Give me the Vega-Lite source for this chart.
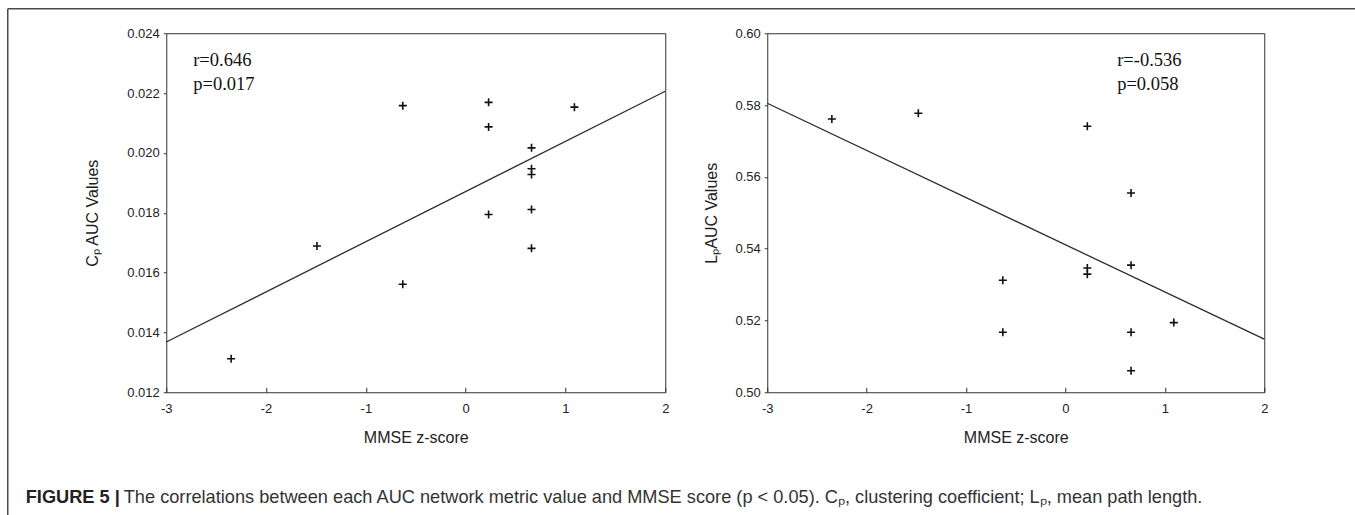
{
  "$schema": "https://vega.github.io/schema/vega-lite/v6.json",
  "background": "white",
  "padding": {"left": 6.25, "top": 7.25, "right": 0, "bottom": 0},
  "datasets": {
    "leftPts": [
      {"z": -2.35, "v": 0.01312},
      {"z": -1.49, "v": 0.01689},
      {"z": -0.63, "v": 0.02158},
      {"z": -0.63, "v": 0.01561},
      {"z": 0.23, "v": 0.02169},
      {"z": 0.23, "v": 0.02087},
      {"z": 0.23, "v": 0.01794},
      {"z": 0.66, "v": 0.02017},
      {"z": 0.66, "v": 0.01947},
      {"z": 0.66, "v": 0.01928},
      {"z": 0.66, "v": 0.01811},
      {"z": 0.66, "v": 0.01681},
      {"z": 1.09, "v": 0.02153}
    ],
    "leftFit": [
      {"z": -3, "v": 0.01368},
      {"z": 2, "v": 0.02206}
    ],
    "leftTxt": [
      {"z": -2.73, "v": 0.0231, "label": "r=0.646"},
      {"z": -2.73, "v": 0.0223, "label": "p=0.017"}
    ],
    "rightPts": [
      {"z": -2.35, "v": 0.5761},
      {"z": -1.48, "v": 0.5777},
      {"z": 0.22, "v": 0.5741},
      {"z": 0.66, "v": 0.5555},
      {"z": 0.66, "v": 0.5354},
      {"z": 0.22, "v": 0.5346},
      {"z": 0.22, "v": 0.5329},
      {"z": -0.63, "v": 0.5312},
      {"z": -0.63, "v": 0.5167},
      {"z": 0.66, "v": 0.5167},
      {"z": 1.09, "v": 0.5194},
      {"z": 0.66, "v": 0.506}
    ],
    "rightFit": [
      {"z": -3, "v": 0.5805},
      {"z": 2, "v": 0.5148}
    ],
    "rightTxt": [
      {"z": 0.52, "v": 0.5925, "label": "r=-0.536"},
      {"z": 0.52, "v": 0.5858, "label": "p=0.058"}
    ],
    "frame": [
      {"fx": 0.5, "fy": 0.5}
    ]
  },
  "config": {
    "view": {"stroke": "#333333", "strokeWidth": 1},
    "axis": {
      "grid": false,
      "domain": false,
      "labelFlush": false,
      "labelFont": "Liberation Sans",
      "labelFontSize": 13,
      "labelColor": "#222222",
      "titleFont": "Liberation Sans",
      "titleFontSize": 16,
      "titleFontWeight": "normal",
      "titleColor": "#222222",
      "tickColor": "#333333"
    },
    "axisX": {"tickSize": -5, "labelPadding": 15, "titlePadding": 14, "labelFlush": false},
    "axisY": {"tickSize": 3, "labelPadding": 4, "labelFlush": false}
  },
  "title": {
    "text": "The correlations between each AUC network metric value and MMSE score (p < 0.05). Cₚ, clustering coefficient; Lₚ, mean path length.",
    "orient": "bottom",
    "anchor": "start",
    "frame": "bounds",
    "font": "Liberation Sans",
    "fontSize": 18.2,
    "fontWeight": "normal",
    "color": "#333333",
    "offset": -52,
    "dx": 117
  },
  "vconcat": [
    {
      "title": {
        "text": "FIGURE 5 |",
        "orient": "bottom",
        "anchor": "start",
        "frame": "bounds",
        "font": "Liberation Sans",
        "fontSize": 18.2,
        "fontWeight": "bold",
        "color": "#222222",
        "offset": -52,
        "dx": 19
      },
      "bounds": "flush",
      "spacing": 102,
      "hconcat": [
        {
          "width": 499,
          "height": 359,
          "resolve": {"scale": {"x": "independent", "y": "independent"}, "axis": {"x": "independent", "y": "independent"}},
          "layer": [
            {
              "layer": [
                {
                  "data": {"name": "leftFit"},
                  "mark": {"type": "line", "color": "#2b2b2b", "strokeWidth": 1.3},
                  "encoding": {
                    "x": {"field": "z", "type": "quantitative", "scale": {"domain": [-3, 2]}, "axis": {"title": "MMSE z-score", "values": [-3, -2, -1, 0, 1, 2], "format": "d", "labelFlush": false, "labelExpr": "replace(datum.label, '−', '-')"}},
                    "y": {"field": "v", "type": "quantitative", "scale": {"domain": [0.012, 0.024], "zero": false}, "axis": {"title": "Cₚ AUC Values", "values": [0.012, 0.014, 0.016, 0.018, 0.02, 0.022, 0.024], "format": ".3f", "labelFlush": false, "titlePadding": 26}}
                  }
                },
                {
                  "data": {"name": "leftPts"},
                  "mark": {"type": "point", "shape": "M-1,0L1,0M0,-1L0,1", "size": 64, "filled": false, "stroke": "#111111", "strokeWidth": 1.6, "opacity": 1},
                  "encoding": {
                    "x": {"field": "z", "type": "quantitative"},
                    "y": {"field": "v", "type": "quantitative"}
                  }
                },
                {
                  "data": {"name": "leftTxt"},
                  "mark": {"type": "text", "font": "Liberation Serif", "fontSize": 18.5, "align": "left", "baseline": "middle", "color": "#111111"},
                  "encoding": {
                    "x": {"field": "z", "type": "quantitative"},
                    "y": {"field": "v", "type": "quantitative"},
                    "text": {"field": "label"}
                  }
                }
              ]
            },
            {
              "data": {"name": "frame"},
              "mark": {"type": "point", "opacity": 0},
              "encoding": {
                "x": {"field": "fx", "type": "quantitative", "scale": {"domain": [0, 1], "range": [-159, 1189]}, "axis": {"orient": "top", "offset": 25, "labels": false, "ticks": false, "title": null, "domain": true, "domainColor": "#4a4a4a", "domainWidth": 1.5, "grid": false}},
                "y": {"field": "fy", "type": "quantitative", "scale": {"domain": [0, 1], "range": [482, -25]}, "axis": {"orient": "left", "offset": 159, "labels": false, "ticks": false, "title": null, "domain": true, "domainColor": "#4a4a4a", "domainWidth": 1.5, "grid": false}}
              }
            }
          ]
        },
        {
          "width": 497,
          "height": 359,
          "layer": [
            {
              "data": {"name": "rightFit"},
              "mark": {"type": "line", "color": "#2b2b2b", "strokeWidth": 1.3},
              "encoding": {
                "x": {"field": "z", "type": "quantitative", "scale": {"domain": [-3, 2]}, "axis": {"title": "MMSE z-score", "values": [-3, -2, -1, 0, 1, 2], "format": "d", "labelFlush": false, "labelExpr": "replace(datum.label, '−', '-')"}},
                "y": {"field": "v", "type": "quantitative", "scale": {"domain": [0.5, 0.6], "zero": false}, "axis": {"title": "LₚAUC Values", "values": [0.5, 0.52, 0.54, 0.56, 0.58, 0.6], "format": ".2f", "labelFlush": false, "titlePadding": 15}}
              }
            },
            {
              "data": {"name": "rightPts"},
              "mark": {"type": "point", "shape": "M-1,0L1,0M0,-1L0,1", "size": 64, "filled": false, "stroke": "#111111", "strokeWidth": 1.6, "opacity": 1},
              "encoding": {
                "x": {"field": "z", "type": "quantitative"},
                "y": {"field": "v", "type": "quantitative"}
              }
            },
            {
              "data": {"name": "rightTxt"},
              "mark": {"type": "text", "font": "Liberation Serif", "fontSize": 18.5, "align": "left", "baseline": "middle", "color": "#111111"},
              "encoding": {
                "x": {"field": "z", "type": "quantitative"},
                "y": {"field": "v", "type": "quantitative"},
                "text": {"field": "label"}
              }
            }
          ]
        }
      ]
    }
  ]
}
